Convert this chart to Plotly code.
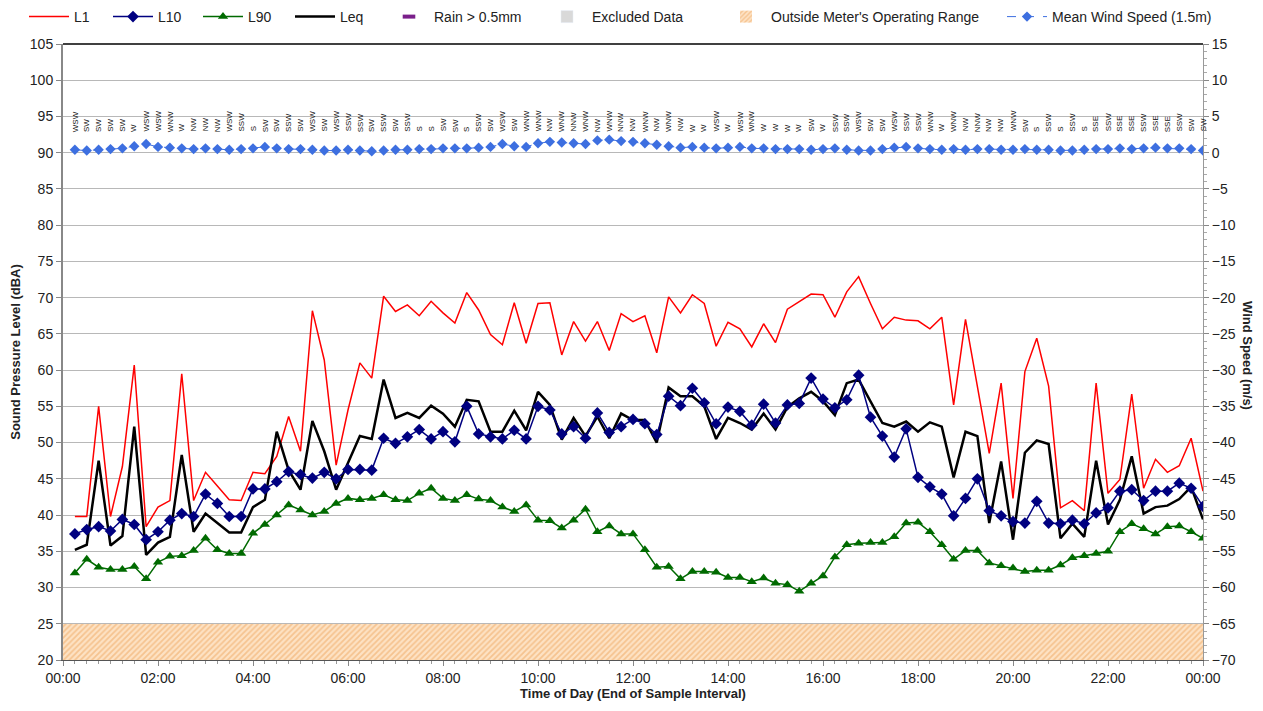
import pandas as pd
import plotly.graph_objects as go

# 15-minute intervals, time stamped at end of interval
times = pd.date_range("2024-01-01 00:15", periods=96, freq="15min")

l1 = [39.8, 39.8, 55.0, 39.8, 46.7, 60.7, 38.4, 41.1, 42.0, 59.5, 42.0, 45.9,
      44.0, 42.1, 42.0, 45.9, 45.7, 48.1, 53.6, 48.8, 68.2, 61.4, 46.9, 54.5,
      61.0, 58.9, 70.2, 68.1, 69.0, 67.5, 69.5, 67.9, 66.5, 70.7, 68.3, 64.9,
      63.5, 69.3, 63.7, 69.2, 69.3, 62.1, 66.7, 64.0, 66.7, 62.7, 67.8, 66.7,
      67.5, 62.4, 70.1, 67.9, 70.4, 69.2, 63.3, 66.6, 65.7, 63.2, 66.4, 63.8,
      68.4, 69.5, 70.5, 70.4, 67.3, 70.8, 72.9, 69.2, 65.7, 67.3, 66.9, 66.8,
      65.7, 67.3, 55.2, 67.0, 58.0, 48.5, 58.2, 42.3, 59.8, 64.4, 57.8, 41.0,
      42.0, 40.6, 58.2, 43.0, 44.9, 56.7, 43.7, 47.7, 45.9, 46.8, 50.6, 43.3]

l10 = [37.4, 38.0, 38.4, 37.8, 39.4, 38.7, 36.6, 37.7, 39.3, 40.2, 39.8, 42.9,
       41.6, 39.8, 39.8, 43.6, 43.6, 44.6, 46.0, 45.6, 45.1, 45.9, 45.0, 46.3,
       46.3, 46.2, 50.6, 49.9, 50.8, 51.8, 50.5, 51.5, 50.1, 55.0, 51.2, 50.8,
       50.5, 51.7, 50.5, 55.0, 54.5, 51.2, 52.2, 50.6, 54.1, 51.4, 52.2, 53.2,
       52.6, 51.1, 56.4, 55.1, 57.5, 55.5, 52.6, 54.9, 54.3, 52.4, 55.3, 52.7,
       55.2, 55.4, 58.9, 56.0, 54.8, 55.9, 59.3, 53.5, 50.9, 48.0, 51.9, 45.2,
       43.9, 42.9, 39.9, 42.3, 45.0, 40.6, 39.9, 39.1, 38.9, 41.9, 38.9, 38.8,
       39.3, 38.8, 40.3, 41.0, 43.3, 43.5, 42.0, 43.3, 43.3, 44.4, 43.7, 41.2]

l90 = [32.0, 33.9, 32.8, 32.5, 32.5, 32.9, 31.2, 33.5, 34.3, 34.4, 35.1, 36.8,
       35.2, 34.7, 34.7, 37.5, 38.7, 40.0, 41.4, 40.7, 40.0, 40.5, 41.6, 42.3,
       42.1, 42.3, 42.8, 42.1, 42.0, 43.0, 43.7, 42.3, 42.0, 42.8, 42.2, 42.0,
       41.1, 40.5, 41.4, 39.3, 39.2, 38.2, 39.3, 40.8, 37.7, 38.5, 37.4, 37.4,
       35.2, 32.8, 32.9, 31.2, 32.2, 32.2, 32.1, 31.4, 31.4, 30.8, 31.3, 30.6,
       30.4, 29.5, 30.6, 31.6, 34.2, 35.9, 36.1, 36.2, 36.2, 37.0, 38.9, 39.0,
       37.7, 35.9, 33.9, 35.1, 35.1, 33.4, 33.0, 32.7, 32.2, 32.4, 32.4, 33.1,
       34.1, 34.4, 34.7, 35.0, 37.7, 38.8, 38.1, 37.4, 38.4, 38.5, 37.7, 36.8]

leq = [35.2, 35.9, 47.5, 35.8, 37.1, 52.2, 34.5, 36.2, 37.0, 48.3, 37.7, 40.2,
       38.9, 37.6, 37.6, 41.1, 42.1, 51.5, 46.2, 43.5, 53.0, 48.8, 43.5, 47.1,
       50.9, 50.5, 58.7, 53.4, 54.1, 53.4, 55.1, 54.0, 52.2, 55.9, 55.7, 51.5,
       51.5, 54.4, 51.7, 57.0, 55.2, 50.4, 53.4, 50.9, 53.6, 50.6, 54.0, 53.1,
       53.1, 50.0, 57.6, 56.4, 56.4, 55.0, 50.5, 53.4, 52.7, 51.8, 54.0, 51.8,
       54.9, 56.1, 57.0, 55.7, 53.8, 58.2, 58.7, 55.7, 52.7, 52.2, 52.9, 51.5,
       52.8, 52.2, 45.2, 51.5, 50.9, 38.9, 47.4, 36.6, 48.6, 50.3, 49.8, 36.8,
       38.8, 37.0, 47.5, 38.7, 42.1, 48.1, 40.2, 41.1, 41.3, 42.2, 43.9, 39.4]

wind_speed = [0.4, 0.3, 0.4, 0.5, 0.6, 0.9, 1.2, 0.8, 0.7, 0.6, 0.5, 0.6,
              0.5, 0.4, 0.5, 0.6, 0.8, 0.6, 0.5, 0.5, 0.4, 0.3, 0.3, 0.4,
              0.3, 0.2, 0.3, 0.4, 0.4, 0.5, 0.5, 0.6, 0.6, 0.6, 0.7, 0.8,
              1.2, 0.9, 0.8, 1.3, 1.5, 1.4, 1.3, 1.2, 1.7, 1.8, 1.6, 1.5,
              1.3, 1.1, 0.9, 0.7, 0.8, 0.7, 0.6, 0.7, 0.8, 0.6, 0.6, 0.5,
              0.5, 0.5, 0.4, 0.5, 0.6, 0.4, 0.3, 0.3, 0.5, 0.7, 0.8, 0.6,
              0.5, 0.4, 0.5, 0.4, 0.5, 0.5, 0.4, 0.4, 0.5, 0.4, 0.4, 0.3,
              0.3, 0.4, 0.5, 0.5, 0.6, 0.5, 0.6, 0.7, 0.6, 0.6, 0.5, 0.3]

wind_dir = ["WSW", "SW", "SW", "SW", "SW", "W", "WSW", "WSW", "WNW", "W", "NW", "NW",
            "NW", "WSW", "SSW", "S", "SW", "SW", "SSW", "SW", "WSW", "SW", "WSW", "SSW",
            "SSW", "SW", "SSW", "SW", "SSW", "S", "S", "SW", "SW", "S", "SSW", "SW",
            "WSW", "SW", "WNW", "WNW", "NW", "WNW", "NNW", "WNW", "NW", "WNW", "NNW", "NW",
            "WNW", "NW", "WNW", "NW", "W", "W", "WSW", "W", "WSW", "WNW", "W", "W",
            "W", "W", "SW", "W", "SSW", "SSW", "WSW", "SW", "SW", "WSW", "SSW", "SSW",
            "WNW", "W", "WNW", "NW", "NNW", "NW", "NW", "WNW", "SW", "S", "SSW", "S",
            "SSW", "S", "SSE", "SSW", "SSE", "SSE", "SSW", "SSE", "SSE", "SSW", "SW", "SW"]

FONT = "Liberation Sans, Arial, sans-serif"
x_start = pd.Timestamp("2024-01-01 00:00")
x_end = pd.Timestamp("2024-01-02 00:00")

# page body has an 8px margin, so the figure is drawn 8px smaller
W, H = 1255, 703
ML, MR, MT, MB = 55, 60, 36, 51

fig = go.Figure()

# hatched band below the meter's operating range
fig.add_trace(go.Bar(
    x=[x_start + (x_end - x_start) / 2], y=[5], base=[20], width=[24 * 3600 * 1000],
    name="Outside Meter's Operating Range",
    marker=dict(color="#fcdcb8", line=dict(width=0),
                pattern=dict(shape="/", fgcolor="#eea35a", bgcolor="#fde2c4", size=4, solidity=0.45)),
    hoverinfo="skip", legend="legend2", legendrank=7, legendwidth=226))
fig.add_trace(go.Scatter(x=times, y=l1, mode="lines", name="L1",
                         line=dict(color="#ff0000", width=1.5), legendrank=1, legendwidth=29))
fig.add_trace(go.Scatter(x=times, y=leq, mode="lines", name="Leq",
                         line=dict(color="#000000", width=2.5), legendrank=4, legendwidth=39))
fig.add_trace(go.Scatter(x=times, y=l10, mode="lines+markers", name="L10",
                         line=dict(color="#000080", width=1.5),
                         marker=dict(symbol="diamond", size=9, color="#000080"),
                         legendrank=2, legendwidth=35))
fig.add_trace(go.Scatter(x=times, y=l90, mode="lines+markers", name="L90",
                         line=dict(color="#006a00", width=1.5),
                         marker=dict(symbol="triangle-up", size=9, color="#006a00"),
                         legendrank=3, legendwidth=37))
fig.add_trace(go.Scatter(x=[None], y=[None], mode="markers", name="Rain > 0.5mm",
                         marker=dict(symbol="line-ew", size=9, line=dict(color="#7a1f8a", width=4)),
                         legendrank=5))
fig.add_trace(go.Bar(x=[None], y=[None], name="Excluded Data", marker=dict(color="#d9d9d9"),
                     legend="legend2", legendrank=6, legendwidth=124))
fig.add_trace(go.Scatter(x=times, y=wind_speed, mode="lines+markers", name="Mean Wind Speed (1.5m)",
                         yaxis="y2", line=dict(color="#3d6fe0", width=1, dash="dash"),
                         marker=dict(symbol="diamond", size=8, color="#3d6fe0"),
                         legend="legend2", legendrank=8))

# wind direction labels along the top of the chart
for t, d in zip(times, wind_dir):
    fig.add_annotation(x=t, y=92.6, text=d, showarrow=False, textangle=-90,
                       xanchor="center", yanchor="bottom",
                       font=dict(family=FONT, size=8, color="#111111"))

plot_w = W - ML - MR
plot_h = H - MT - MB
fig.add_annotation(x=(1240 - ML) / plot_w, y=(H - MB - 347) / plot_h, xref="paper", yref="paper",
                   xanchor="center", yanchor="middle", text="<b>Wind Speed (m/s)</b>",
                   textangle=90, showarrow=False, font=dict(family=FONT, size=13, color="#222222"))

legend_style = dict(orientation="h", xref="container", yref="container", xanchor="left",
                    y=1 - 9 / H, yanchor="middle", font=dict(size=14), itemwidth=40,
                    traceorder="normal", bgcolor="rgba(0,0,0,0)")

fig.update_layout(
    width=W, height=H,
    margin=dict(l=ML, r=MR, t=MT, b=MB, autoexpand=False),
    paper_bgcolor="white", plot_bgcolor="white",
    font=dict(family=FONT, size=14, color="#222222"),
    barmode="overlay", bargap=0,
    showlegend=True,
    legend=dict(x=16 / W, **legend_style),
    legend2=dict(x=534 / W, **legend_style),
    xaxis=dict(range=[x_start, x_end], type="date", tickformat="%H:%M", dtick=2 * 3600 * 1000,
               tick0=x_start, showgrid=False, ticks="outside", ticklen=5, tickcolor="#888888",
               showline=True, linecolor="#555555", linewidth=1, automargin=False,
               minor=dict(dtick=15 * 60 * 1000, ticks="outside", ticklen=3, tickcolor="#999999"),
               title=dict(text="<b>Time of Day (End of Sample Interval)</b>", font=dict(size=13), standoff=4)),
    yaxis=dict(range=[20, 105], dtick=5, showgrid=True, gridcolor="#b8b8b8", gridwidth=1,
               ticks="outside", ticklen=5, tickcolor="#888888", zeroline=False, automargin=False,
               showline=True, linecolor="#888888", linewidth=2,
               title=dict(text="<b>Sound Pressure Level (dBA)</b>", font=dict(size=13), standoff=6)),
    yaxis2=dict(range=[-70, 15], dtick=5, overlaying="y", side="right", showgrid=False,
                zeroline=False, ticks="outside", ticklen=5, tickcolor="#888888", automargin=False,
                showline=True, linecolor="#999999", linewidth=1,
                minor=dict(dtick=1, ticks="outside", ticklen=3, tickcolor="#aaaaaa")),
)
fig.add_shape(type="line", xref="paper", yref="paper", x0=0, x1=1, y0=1, y1=1,
              line=dict(color="#000000", width=1.5))

fig.write_html("out.html")
